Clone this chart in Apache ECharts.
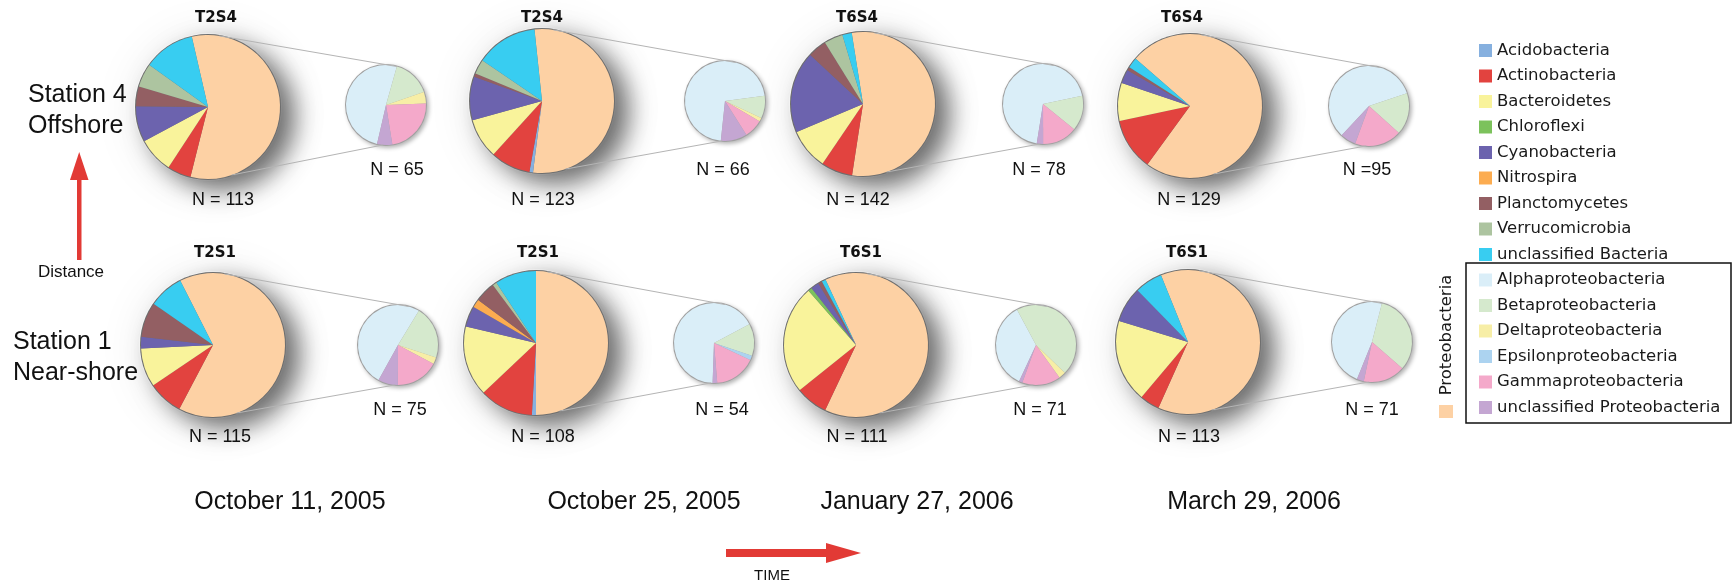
<!DOCTYPE html>
<html>
<head>
<meta charset="utf-8">
<script src="https://cdn.jsdelivr.net/npm/echarts@6/dist/echarts.min.js"></script>
<style>
html, body { margin: 0; padding: 0; background: #fff; }
#main { width: 1736px; height: 587px; }
</style>
</head>
<body>
<div id="main"></div>
<script>
// categories
var bacteriaGroups = ['Acidobacteria', 'Actinobacteria', 'Bacteroidetes', 'Chloroflexi', 'Cyanobacteria',
    'Nitrospira', 'Planctomycetes', 'Verrucomicrobia', 'unclassified Bacteria'];
var proteoClasses = ['Alphaproteobacteria', 'Betaproteobacteria', 'Deltaproteobacteria',
    'Epsilonproteobacteria', 'Gammaproteobacteria', 'unclassified Proteobacteria'];
var sampleNames = ['T2S4', 'T2S4', 'T6S4', 'T6S4', 'T2S1', 'T2S1', 'T6S1', 'T6S1'];
var dates = ['October 11, 2005', 'October 25, 2005', 'January 27, 2006', 'March 29, 2006'];

// non-proteobacterial clones per library (order = bacteriaGroups)
var st4Oct11 = [0, 6, 9, 0, 9, 0, 5, 6, 13];
var st4Oct25 = [1, 11, 11, 0, 12, 0, 1, 4, 17];
var st4Jan27 = [0, 10, 13, 0, 26, 0, 6, 6, 3];
var st4Mar29 = [0, 15, 11, 0, 4, 0, 1, 0, 3];
var st1Oct11 = [0, 9, 10, 0, 3, 0, 9, 0, 9];
var st1Oct25 = [1, 13, 17, 0, 5, 2, 5, 1, 10];
var st1Jan27 = [0, 8, 27, 1, 2, 0, 1, 0, 1];
var st1Mar29 = [0, 5, 21, 0, 9, 0, 0, 0, 7];

// proteobacterial clones per library (order = proteoClasses)
var st4Oct11Proteo = [33, 10, 3, 0, 15, 4];
var st4Oct25Proteo = [47, 6, 1, 0, 5, 7];
var st4Jan27Proteo = [54, 11, 0, 0, 11, 2];
var st4Mar29Proteo = [55, 16, 0, 0, 18, 6];
var st1Oct11Proteo = [38, 16, 2, 0, 13, 6];
var st1Oct25Proteo = [36, 7, 0, 1, 9, 1];
var st1Jan27Proteo = [25, 32, 2, 0, 11, 1];
var st1Mar29Proteo = [34, 23, 0, 0, 12, 2];

var phylaCounts = [st4Oct11, st4Oct25, st4Jan27, st4Mar29, st1Oct11, st1Oct25, st1Jan27, st1Mar29];
var proteoCounts = [st4Oct11Proteo, st4Oct25Proteo, st4Jan27Proteo, st4Mar29Proteo,
    st1Oct11Proteo, st1Oct25Proteo, st1Jan27Proteo, st1Mar29Proteo];

var colors = {
    'Proteobacteria': '#fdd1a4',
    'Acidobacteria': '#86b0df',
    'Actinobacteria': '#e2433f',
    'Bacteroidetes': '#f9f39b',
    'Chloroflexi': '#7cc25c',
    'Cyanobacteria': '#6c63ae',
    'Nitrospira': '#fcac50',
    'Planctomycetes': '#935f63',
    'Verrucomicrobia': '#adc4a0',
    'unclassified Bacteria': '#38cdf1',
    'Alphaproteobacteria': '#daeef8',
    'Betaproteobacteria': '#d5e9cd',
    'Deltaproteobacteria': '#f7eea6',
    'Epsilonproteobacteria': '#acd3f0',
    'Gammaproteobacteria': '#f4a9ca',
    'unclassified Proteobacteria': '#c4a6d2'
};

// layout
var bigCenters = [[208, 107], [542, 101], [863, 104], [1190, 106], [213, 345], [536, 343], [856, 345], [1188, 342]];
var smallCenters = [[386, 105], [725, 101], [1043, 104], [1369, 106], [398, 345], [714, 343], [1036, 345], [1372, 342]];
var bigR = 72, smallR = 40;
var bigStart = [103, 96, 99, 139, 117, 90, 115, 112];
var smallStart = [-103, -96, -99, -133, -119, -92, -115, -112];
var titleX = [216, 542, 857, 1182, 215, 538, 861, 1187];
var bigLabelX = [223, 543, 858, 1189, 220, 543, 857, 1189];
var smallLabelX = [397, 723, 1039, 1367, 400, 722, 1040, 1372];
var smallSep = [' = ', ' = ', ' = ', ' =', ' = ', ' = ', ' = ', ' = '];
var dateX = [290, 644, 917, 1254];
var FONT = '"Liberation Sans", Arial, Helvetica, sans-serif';
var LEGEND_FONT = '"DejaVu Sans", Verdana, sans-serif';

function sum(a) { return a.reduce(function (s, v) { return s + v; }, 0); }
function pt(c, r, deg) {
    var a = deg * Math.PI / 180;
    return [c[0] + r * Math.sin(a), c[1] - r * Math.cos(a)];
}
function basePie(center, r, style, z) {
    return {
        type: 'pie', center: center, radius: r, silent: true, z: z,
        label: { show: false }, labelLine: { show: false }, emphasis: { disabled: true },
        data: [{ name: '_base', value: 1, itemStyle: style }]
    };
}

var series = [];
var graphics = [];
for (var i = 0; i < 8; i++) {
    var proteoData = proteoClasses.map(function (n, k) {
        return { name: n, value: proteoCounts[i][k], itemStyle: { color: colors[n] } };
    });
    var bigData = [{ name: 'Proteobacteria', value: sum(proteoCounts[i]), itemStyle: { color: colors['Proteobacteria'] } }]
        .concat(bacteriaGroups.map(function (n, k) {
            return { name: n, value: phylaCounts[i][k], itemStyle: { color: colors[n] } };
        }));

    series.push(basePie(bigCenters[i], bigR + 2, { color: '#fff', shadowBlur: 50, shadowOffsetX: 4, shadowOffsetY: 4, shadowColor: 'rgba(0,0,0,0.09)' }, 1));
    series.push(basePie(bigCenters[i], bigR + 1, {
        color: '#6e6e6e', shadowBlur: 24, shadowOffsetX: 14, shadowOffsetY: 10, shadowColor: 'rgba(0,0,0,0.55)'
    }, 2));
    series.push({
        type: 'pie', center: bigCenters[i], radius: bigR, startAngle: bigStart[i], silent: true, z: 3,
        label: { show: false }, labelLine: { show: false }, emphasis: { disabled: true },
        data: bigData
    });
    series.push(basePie(smallCenters[i], smallR + 1, {
        color: '#a0a0a0', shadowBlur: 4, shadowOffsetX: 2, shadowOffsetY: 2, shadowColor: 'rgba(0,0,0,0.3)'
    }, 2));
    series.push({
        type: 'pie', center: smallCenters[i], radius: smallR, startAngle: smallStart[i], silent: true, z: 3,
        label: { show: false }, labelLine: { show: false }, emphasis: { disabled: true },
        data: proteoData
    });

    // zoom lines
    var a1 = pt(bigCenters[i], bigR, 9), b1 = pt(smallCenters[i], smallR, 16);
    var a2 = pt(bigCenters[i], bigR, 161), b2 = pt(smallCenters[i], smallR, 184);
    [[a1, b1], [a2, b2]].forEach(function (l) {
        graphics.push({
            type: 'line', z: 10, silent: true,
            shape: { x1: l[0][0], y1: l[0][1], x2: l[1][0], y2: l[1][1] },
            style: { stroke: '#b4b4b4', lineWidth: 1 }
        });
    });

    var rowTop = i < 4;
    graphics.push({
        type: 'text', z: 10, x: titleX[i], y: rowTop ? 18 : 253,
        style: { text: sampleNames[i], font: 'bold 15px ' + LEGEND_FONT, fill: '#111', textAlign: 'center', textVerticalAlign: 'middle' }
    });
    graphics.push({
        type: 'text', z: 10, x: bigLabelX[i], y: rowTop ? 200 : 437,
        style: { text: 'N = ' + sum(bigData.map(function (d) { return d.value; })), font: '18px ' + FONT,
            fill: '#111', textAlign: 'center', textVerticalAlign: 'middle' }
    });
    graphics.push({
        type: 'text', z: 10, x: smallLabelX[i], y: rowTop ? 170 : 410,
        style: { text: 'N' + smallSep[i] + sum(proteoCounts[i]), font: '18px ' + FONT,
            fill: '#111', textAlign: 'center', textVerticalAlign: 'middle' }
    });
}

dates.forEach(function (d, k) {
    graphics.push({
        type: 'text', z: 10, x: dateX[k], y: 502,
        style: { text: d, font: '25px ' + FONT, fill: '#111', textAlign: 'center', textVerticalAlign: 'middle' }
    });
});

// station labels
[['Station 4', 28, 95], ['Offshore', 28, 126], ['Station 1', 13, 342], ['Near-shore', 13, 373]].forEach(function (s) {
    graphics.push({
        type: 'text', z: 10, x: s[1], y: s[2],
        style: { text: s[0], font: '25px ' + FONT, fill: '#111', textAlign: 'left', textVerticalAlign: 'middle' }
    });
});
graphics.push({ type: 'text', z: 10, x: 71, y: 272,
    style: { text: 'Distance', font: '17px ' + FONT, fill: '#111', textAlign: 'center', textVerticalAlign: 'middle' } });
graphics.push({ type: 'text', z: 10, x: 772, y: 576,
    style: { text: 'TIME', font: '15px ' + FONT, fill: '#111', textAlign: 'center', textVerticalAlign: 'middle' } });

// arrows
var red = '#e23a35';
graphics.push({ type: 'rect', z: 10, shape: { x: 77, y: 176, width: 4.5, height: 84 }, style: { fill: red } });
graphics.push({ type: 'polygon', z: 10, shape: { points: [[70, 180], [88.5, 180], [79.2, 152]] }, style: { fill: red } });
graphics.push({ type: 'rect', z: 10, shape: { x: 726, y: 549, width: 102, height: 8 }, style: { fill: red } });
graphics.push({ type: 'polygon', z: 10, shape: { points: [[826, 543], [826, 563], [861, 553]] }, style: { fill: red } });

// proteobacteria bracket of the legend
graphics.push({ type: 'rect', z: 10, shape: { x: 1466, y: 263, width: 265, height: 160 },
    style: { fill: 'none', stroke: '#111', lineWidth: 1.5 } });
graphics.push({ type: 'rect', z: 10, shape: { x: 1439, y: 405, width: 14, height: 13 },
    style: { fill: colors['Proteobacteria'] } });
graphics.push({ type: 'text', z: 10, x: 1447, y: 335, rotation: Math.PI / 2,
    style: { text: 'Proteobacteria', font: '16.5px ' + LEGEND_FONT, fill: '#1a1a1a',
        textAlign: 'center', textVerticalAlign: 'middle' } });

var option = {
    animation: false,
    backgroundColor: '#fff',
    legend: {
        data: bacteriaGroups.concat(proteoClasses).map(function (n) { return { name: n, icon: 'rect' }; }),
        orient: 'vertical',
        left: 1474,
        top: 37,
        itemWidth: 13,
        itemHeight: 13,
        itemGap: 8.5,
        selectedMode: false,
        textStyle: { fontFamily: LEGEND_FONT, fontSize: 16.5, lineHeight: 16, color: '#1a1a1a' }
    },
    graphic: { elements: graphics },
    series: series
};

var chartDom = document.getElementById('main');
var myChart = echarts.init(chartDom);
myChart.setOption(option);
</script>
</body>
</html>
